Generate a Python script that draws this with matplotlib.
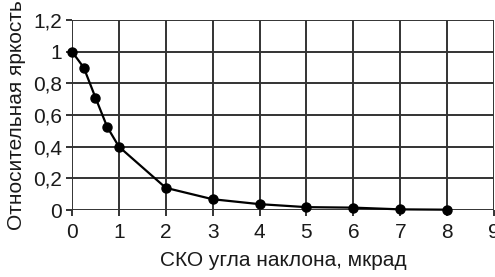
import matplotlib
matplotlib.use("Agg")
import matplotlib.pyplot as plt

x_vals = [0, 0.25, 0.5, 0.75, 1, 2, 3, 4, 5, 6, 7, 8]
y_vals = [1.0, 0.90, 0.71, 0.525, 0.40, 0.14, 0.068, 0.037, 0.018, 0.015, 0.004, 0.002]
x_ticks = [0, 1, 2, 3, 4, 5, 6, 7, 8, 9]
y_ticks = [0, 0.2, 0.4, 0.6, 0.8, 1.0, 1.2]
y_tick_labels = ["0", "0,2", "0,4", "0,6", "0,8", "1", "1,2"]
x_label = "СКО угла наклона, мкрад"
y_label = "Относительная яркость"

plt.rcParams['font.family'] = ['Liberation Sans', 'DejaVu Sans']

fig = plt.figure(figsize=(4.95, 2.77), dpi=100)
ax = fig.add_axes([72/495, 67/277, 423/495 - 0.002, 190/277])

grid_c = '#333333'
ax.set_xlim(0, 9)
ax.set_ylim(0, 1.2)
ax.set_xticks(x_ticks)
ax.set_yticks(y_ticks)
ax.set_yticklabels(y_tick_labels)
ax.grid(True, color=grid_c, linewidth=1.4)
ax.set_axisbelow(True)
for s in ax.spines.values():
    s.set_visible(False)
ax.tick_params(axis='both', colors=grid_c, width=1.4, length=4, labelsize=15,
               labelcolor='#1a1a1a', pad=3)
ax.tick_params(axis='x', pad=5)

ax.plot(x_vals, y_vals, color='black', linewidth=1.6, marker='o', markersize=6.5,
        clip_on=False, zorder=3)

ax.set_xlabel(x_label, fontsize=15, color='#1a1a1a', labelpad=7)
ax.set_ylabel(y_label, fontsize=15, color='#1a1a1a', labelpad=5)

fig.savefig('out.png', dpi=100)
